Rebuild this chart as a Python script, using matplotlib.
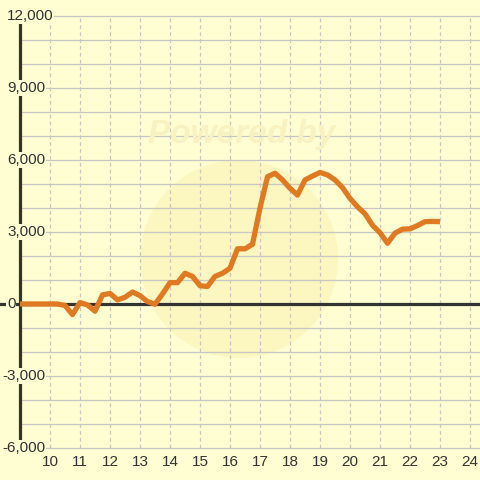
import matplotlib
matplotlib.use("Agg")
from matplotlib import pyplot as plt
from matplotlib.patches import Circle
import matplotlib.transforms as mtransforms

# heures (quart d'heure) et valeurs
heures = [9.0, 9.25, 9.5, 9.75, 10.0, 10.25, 10.5, 10.75, 11.0, 11.25, 11.5, 11.75,
          12.0, 12.25, 12.5, 12.75, 13.0, 13.25, 13.5, 13.75, 14.0, 14.25, 14.5, 14.75,
          15.0, 15.25, 15.5, 15.75, 16.0, 16.25, 16.5, 16.75, 17.0, 17.25, 17.5, 17.75,
          18.0, 18.25, 18.5, 18.75, 19.0, 19.25, 19.5, 19.75, 20.0, 20.25, 20.5, 20.75,
          21.0, 21.25, 21.5, 21.75, 22.0, 22.25, 22.5, 22.75, 23.0]
valeurs = [0, 0, 0, 0, 0, 0, -60, -440, 60, -40, -300, 380,
           440, 170, 280, 500, 350, 100, -10, 420, 890, 890, 1280, 1150,
           760, 730, 1150, 1280, 1490, 2300, 2300, 2490, 4000, 5300, 5450, 5170,
           4820, 4540, 5170, 5330, 5480, 5380, 5170, 4850, 4400, 4050, 3760, 3280,
           2970, 2530, 2950, 3120, 3130, 3270, 3430, 3440, 3430]

x_ticks = list(range(10, 25))
y_labels = [12000, 9000, 6000, 3000, 0, -3000, -6000]
y_grid = list(range(-6000, 12001, 1000))

fond = "#fefed2"
sombre = "#333333"
orange = "#e07a22"

fig = plt.figure(figsize=(4.8, 4.8), dpi=100, facecolor=fond)
ax = fig.add_axes([0, 0, 1, 1])
ax.set_facecolor(fond)
ax.set_xlim(9 - 20 / 30, 9 + 460 / 30)
ax.set_ylim(-6000 - 32 * 1000 / 24, 12000 + 16 * 1000 / 24)
ax.axis("off")

# filigrane
ax.add_patch(Circle((239 / 480, 1 - 259 / 480), 99 / 480, transform=fig.transFigure,
                    facecolor="#fbf0b0", edgecolor="none", alpha=0.5, zorder=0))
fig.text(242 / 480, 1 - 134 / 480, "Powered by", ha="center", va="center",
         fontsize=24, fontweight="bold", fontstyle="italic", color="#f8f1c2",
         family="Liberation Sans", zorder=0)

# grille
ax.hlines(y_grid, 9, ax.get_xlim()[1], color="#c6c6c6", linewidth=0.9, zorder=1)
ax.vlines(x_ticks, -6000, 12000, color="#c6c6c6", linewidth=0.9,
          linestyles=(0, (3, 2.5)), zorder=1)

# axes
ax.axhline(0, xmin=0, xmax=1, color=sombre, linewidth=2.3, zorder=2)
ax.plot([9, 9], [-6000, 12000], color=sombre, linewidth=2.3, zorder=2,
        solid_capstyle="butt")

# courbe
ax.plot(heures, valeurs, color=orange, linewidth=3.8, solid_joinstyle="round",
        solid_capstyle="butt", zorder=3)

# étiquettes
trans_y = mtransforms.blended_transform_factory(ax.transAxes, ax.transData)
for v in y_labels:
    xpos = 2 / 480 if v < 0 else 7 / 480
    ax.text(xpos, v, f"{v:,}", transform=trans_y, ha="left", va="center",
            fontsize=11, color=sombre, family="Liberation Sans", zorder=4,
            bbox=dict(facecolor=fond, edgecolor="none", pad=0.5))

trans_x = mtransforms.blended_transform_factory(ax.transData, ax.transAxes)
for t in x_ticks:
    ax.text(t, 1 - 462 / 480, str(t), transform=trans_x, ha="center", va="center",
            fontsize=11, color=sombre, family="Liberation Sans", zorder=4)

fig.savefig("out.png", dpi=100, facecolor=fond)
